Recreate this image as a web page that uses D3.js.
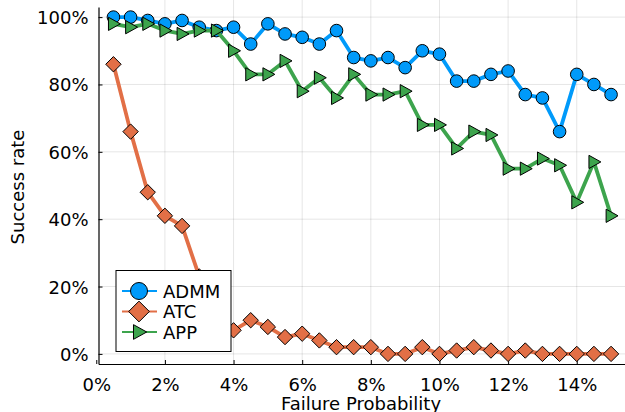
<!DOCTYPE html>
<meta charset="utf-8">
<style>
body { margin: 0; background: #fff; }
text { font-family: "DejaVu Sans", sans-serif; fill: #000; }
.grid line { stroke: #000; stroke-opacity: 0.1; stroke-width: 1; }
</style>
<body>
<svg width="625" height="412"></svg>
<script src="https://d3js.org/d3.v7.min.js"></script>
<script>

// failure probability (%)
var failProb = [0.5, 1, 1.5, 2, 2.5, 3, 3.5, 4, 4.5, 5, 5.5, 6, 6.5, 7, 7.5,
                8, 8.5, 9, 9.5, 10, 10.5, 11, 11.5, 12, 12.5, 13, 13.5, 14, 14.5, 15];

// success rate (%)
var admm = [100, 100, 99, 98, 99, 97, 96, 97, 92, 98, 95, 94, 92, 96, 88,
            87, 88, 85, 90, 89, 81, 81, 83, 84, 77, 76, 66, 83, 80, 77];
var atc  = [86, 66, 48, 41, 38, 23, 12, 7, 10, 8, 5, 6, 4, 2, 2,
            2, 0, 0, 2, 0, 1, 2, 1, 0, 1, 0, 0, 0, 0, 0];
var app  = [98, 97, 98, 96, 95, 96, 96, 90, 83, 83, 87, 78, 82, 76, 83,
            77, 77, 78, 68, 68, 61, 66, 65, 55, 55, 58, 56, 45, 57, 41];

var xTicks = [0, 2, 4, 6, 8, 10, 12, 14];
var yTicks = [0, 20, 40, 60, 80, 100];

var series = [
  {name: "ADMM", values: admm, color: "#009AFA", shape: "circle"},
  {name: "ATC",  values: atc,  color: "#E26F46", shape: "diamond"},
  {name: "APP",  values: app,  color: "#3DA44D", shape: "triangle"}
];

var svg = d3.select("svg");

var x = d3.scaleLinear().domain([0.065, 15.435]).range([98.5, 626]);
var y = d3.scaleLinear().domain([-3, 103]).range([364, 7]);

var left = x.range()[0], right = x.range()[1],
    top = y.range()[1], bottom = y.range()[0];

// grid
var grid = svg.append("g").attr("class", "grid");
grid.selectAll(".gx").data(xTicks.filter(function(d) { return x(d) > left; }))
  .enter().append("line")
    .attr("x1", function(d) { return x(d); }).attr("x2", function(d) { return x(d); })
    .attr("y1", top).attr("y2", bottom);
grid.selectAll(".gy").data(yTicks)
  .enter().append("line")
    .attr("y1", function(d) { return y(d); }).attr("y2", function(d) { return y(d); })
    .attr("x1", left).attr("x2", right);

// axes
var xAxis = svg.append("g")
    .attr("transform", "translate(0," + bottom + ")")
    .call(d3.axisTop(x).tickValues(xTicks).tickSize(4).tickSizeOuter(0).tickFormat(function(d) { return d + "%"; }));
xAxis.select(".domain").attr("stroke", "#000").attr("stroke-width", 1.2);
xAxis.selectAll("text")
    .attr("y", 27)
    .attr("dy", 0)
    .style("font-size", "18px")
    .style("font-family", "DejaVu Sans");

var yAxis = svg.append("g")
    .attr("transform", "translate(" + left + ",0)")
    .call(d3.axisRight(y).tickValues(yTicks).tickSize(4).tickSizeOuter(0).tickFormat(function(d) { return d + "%"; }));
yAxis.select(".domain").attr("stroke", "#000").attr("stroke-width", 1.2);
yAxis.selectAll("text")
    .attr("x", -10)
    .attr("dy", "0.36em")
    .attr("text-anchor", "end")
    .style("font-size", "18px")
    .style("font-family", "DejaVu Sans");

svg.append("text")
    .attr("x", 361).attr("y", 410)
    .attr("text-anchor", "middle")
    .style("font-size", "18px")
    .text("Failure Probability");

svg.append("text")
    .attr("transform", "translate(24,187) rotate(-90)")
    .attr("text-anchor", "middle")
    .style("font-size", "18px")
    .text("Success rate");

function marker(sel, shape, s) {
  if (shape === "circle") {
    sel.append("circle").attr("r", s);
  } else if (shape === "diamond") {
    var d = s * 1.22;
    sel.append("path").attr("d", "M0," + (-d) + "L" + d + ",0L0," + d + "L" + (-d) + ",0Z");
  } else {
    var h = s * 1.05;
    sel.append("path").attr("d", "M" + (-h * 0.75) + "," + (-h) + "L" + (h * 1.05) + ",0L" + (-h * 0.75) + "," + h + "Z");
  }
}

var line = d3.line()
    .x(function(d, i) { return x(failProb[i]); })
    .y(function(d) { return y(d); });

series.forEach(function(s) {
  var g = svg.append("g");
  g.append("path")
    .datum(s.values)
    .attr("fill", "none")
    .attr("stroke", s.color)
    .attr("stroke-width", 3.8)
    .attr("stroke-linejoin", "round")
    .attr("d", line);
  g.selectAll(".pt").data(s.values).enter().append("g")
    .attr("transform", function(d, i) { return "translate(" + x(failProb[i]) + "," + y(d) + ")"; })
    .each(function() { marker(d3.select(this), s.shape, 6.3); })
    .selectAll("circle, path")
      .attr("fill", s.color)
      .attr("stroke", "#000")
      .attr("stroke-width", 1);
});

// legend
var legend = svg.append("g");
legend.append("rect")
    .attr("x", 116).attr("y", 270.5).attr("width", 115).attr("height", 81)
    .attr("fill", "#fff").attr("stroke", "#000").attr("stroke-width", 1);
series.forEach(function(s, i) {
  var ly = 291 + i * 20.5;
  legend.append("line")
    .attr("x1", 122).attr("x2", 157).attr("y1", ly).attr("y2", ly)
    .attr("stroke", s.color).attr("stroke-width", 2);
  var m = legend.append("g").attr("transform", "translate(139," + ly + ")");
  marker(m, s.shape, s.shape === "circle" ? 8.5 : s.shape === "diamond" ? 8.5 : 7);
  m.selectAll("circle, path").attr("fill", s.color).attr("stroke", "#000").attr("stroke-width", 1);
  legend.append("text")
    .attr("x", 163).attr("y", ly + 6.5)
    .style("font-size", "18px")
    .text(s.name);
});

</script>
</body>
